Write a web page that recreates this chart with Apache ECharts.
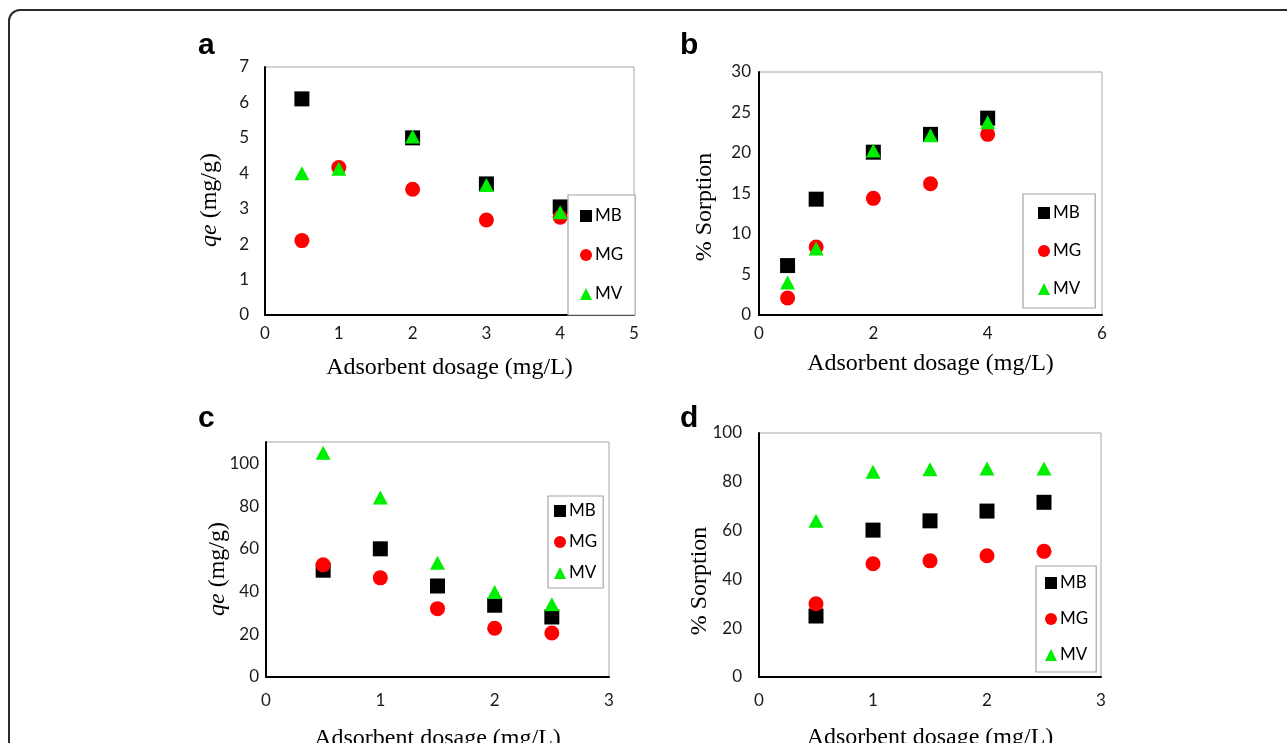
<!DOCTYPE html>
<html>
<head>
<meta charset="utf-8">
<script src="https://cdn.jsdelivr.net/npm/echarts@6/dist/echarts.min.js"></script>
<style>
html,body{margin:0;padding:0;background:#fff;}
#chart{width:1287px;height:743px;}
</style>
</head>
<body>
<div id="chart"></div>
<script>
// ---- data ----
const seriesNames = ['MB', 'MG', 'MV'];
const dosageAB = [0.5, 1, 2, 3, 4];
const dosageCD = [0.5, 1, 1.5, 2, 2.5];

const qeA_MB = [6.1, null, 5.0, 3.7, 3.05];
const qeA_MG = [2.1, 4.16, 3.55, 2.68, 2.76];
const qeA_MV = [4.0, 4.13, 5.04, 3.67, 2.9];

const sorpB_MB = [6.1, 14.3, 20.1, 22.3, 24.3];
const sorpB_MG = [2.1, 8.4, 14.4, 16.2, 22.3];
const sorpB_MV = [4.0, 8.2, 20.3, 22.2, 23.8];

const qeC_MB = [50, 60, 42.6, 33.6, 28.1];
const qeC_MG = [52.5, 46.4, 32.0, 22.8, 20.6];
const qeC_MV = [105, 84, 53.5, 39.8, 34];

const sorpD_MB = [25, 60.2, 64, 68, 71.6];
const sorpD_MG = [30, 46.4, 47.6, 49.7, 51.5];
const sorpD_MV = [64, 84.1, 85.1, 85.5, 85.5];

const panelLetters = ['a', 'b', 'c', 'd'];
const xTitle = 'Adsorbent dosage (mg/L)';
const yTitles = ['{i|qe} (mg/g)', '% Sorption', '{i|qe} (mg/g)', '% Sorption'];

// ---- layout / style ----
const colors = { MB: '#000000', MG: '#ff0000', MV: '#00ee00' };
const symbols = { MB: 'rect', MG: 'circle', MV: 'triangle' };
const symSizes = { MB: 15, MG: 15, MV: [15, 14] };

const panels = [
  { grid: { left: 265, top: 67, width: 369, height: 248 },
    x: { min: 0, max: 5, interval: 1 }, y: { min: 0, max: 7, interval: 1 },
    xs: dosageAB, data: [qeA_MB, qeA_MG, qeA_MV],
    yMargin: 16, xMargin: 10, xGap: 41,
    legend: { left: 568, top: 195, padding: [12, 12, 12, 12], itemGap: 21 },
    letter: [198, 46], ytitle: [210, 200] },
  { grid: { left: 759, top: 72, width: 343, height: 243 },
    x: { min: 0, max: 6, interval: 2 }, y: { min: 0, max: 30, interval: 5 },
    xs: dosageAB, data: [sorpB_MB, sorpB_MG, sorpB_MV],
    yMargin: 8, xMargin: 10, xGap: 37,
    legend: { left: 1023, top: 194, padding: [10, 14, 10, 15], itemGap: 20 },
    letter: [680, 46], ytitle: [705, 207] },
  { grid: { left: 266, top: 442, width: 343, height: 235 },
    x: { min: 0, max: 3, interval: 1 }, y: { min: 0, max: 110, interval: 20 },
    xs: dosageCD, data: [qeC_MB, qeC_MG, qeC_MV],
    yMargin: 7, xMargin: 15, xGap: 50,
    legend: { left: 548, top: 496, padding: [6, 6, 6, 6], itemGap: 13 },
    letter: [198, 419], ytitle: [218, 569] },
  { grid: { left: 759, top: 433, width: 342, height: 244 },
    x: { min: 0, max: 3, interval: 1 }, y: { min: 0, max: 100, interval: 20 },
    xs: dosageCD, data: [sorpD_MB, sorpD_MG, sorpD_MV],
    yMargin: 17, xMargin: 15, xGap: 49,
    legend: { left: 1036, top: 566, padding: [8, 8, 8, 9], itemGap: 18 },
    letter: [680, 419], ytitle: [700, 581] }
];

const tickFont = 'Lato';
const titleFont = 'Liberation Serif';

const grids = [], xAxes = [], yAxes = [], series = [], legends = [], graphics = [];

panels.forEach((p, k) => {
  grids.push(Object.assign({ show: true, borderColor: '#a6a6a6', borderWidth: 1, backgroundColor: 'transparent',
    containLabel: false, outerBoundsMode: 'none' }, p.grid));
  xAxes.push({
    type: 'value', gridIndex: k, min: p.x.min, max: p.x.max, interval: p.x.interval,
    axisLine: { show: true, onZero: false, lineStyle: { color: '#000', width: 2 } },
    axisTick: { show: false }, splitLine: { show: false },
    axisLabel: { margin: p.xMargin, fontFamily: tickFont, fontSize: 17, color: '#1a1a1a' },
    name: xTitle, nameLocation: 'middle', nameGap: p.xGap,
    nameTextStyle: { fontFamily: titleFont, fontSize: 24, color: '#000' }
  });
  yAxes.push({
    type: 'value', gridIndex: k, min: p.y.min, max: p.y.max, interval: p.y.interval,
    axisLine: { show: true, onZero: false, lineStyle: { color: '#000', width: 2 } },
    axisTick: { show: false }, splitLine: { show: false },
    axisLabel: { margin: p.yMargin, fontFamily: tickFont, fontSize: 17, color: '#1a1a1a',
      formatter: v => (v % p.y.interval === 0 ? String(v) : '') }
  });
  seriesNames.forEach((name, s) => {
    const pts = [];
    p.xs.forEach((x, i) => { const v = p.data[s][i]; if (v !== null && v !== undefined) pts.push([x, v]); });
    series.push({
      type: 'scatter', name: name, xAxisIndex: k, yAxisIndex: k,
      symbol: symbols[name], symbolSize: symSizes[name],
      itemStyle: { color: colors[name], opacity: 1 },
      emphasis: { disabled: true },
      data: pts, z: 2 + s
    });
  });
  legends.push({
    orient: 'vertical', left: p.legend.left, top: p.legend.top,
    padding: p.legend.padding, itemGap: p.legend.itemGap,
    itemWidth: 12, itemHeight: 12,
    backgroundColor: '#fff', borderColor: '#a6a6a6', borderWidth: 1.2,
    selectedMode: false, data: seriesNames, z: 10,
    textStyle: { fontFamily: tickFont, fontSize: 17, color: '#000', lineHeight: 18, padding: [0, 0, 0, -2] }
  });
  graphics.push({
    type: 'text', x: p.letter[0], y: p.letter[1],
    style: { text: panelLetters[k], fontFamily: 'Liberation Sans', fontWeight: 'bold', fontSize: 30, fill: '#000', textAlign: 'left', textVerticalAlign: 'middle' }
  });
  graphics.push({
    type: 'text', x: p.ytitle[0], y: p.ytitle[1], rotation: Math.PI / 2,
    style: { text: yTitles[k], fontFamily: titleFont, fontSize: 24, fill: '#000', textAlign: 'center', textVerticalAlign: 'middle',
      rich: { i: { fontFamily: titleFont, fontSize: 24, fontStyle: 'italic', fill: '#000' } } }
  });
});

graphics.push({
  type: 'rect', shape: { x: 9, y: 10, width: 1400, height: 900, r: 11 },
  style: { fill: null, stroke: '#2a2a2a', lineWidth: 2 }, z: 100
});

const chart = echarts.init(document.getElementById('chart'), null, { renderer: 'canvas' });
chart.setOption({
  animation: false,
  backgroundColor: '#fff',
  grid: grids, xAxis: xAxes, yAxis: yAxes, series: series, legend: legends, graphic: graphics
});
</script>
</body>
</html>
